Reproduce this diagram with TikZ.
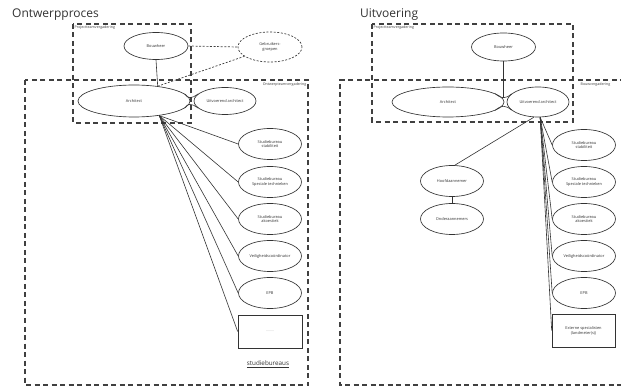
\documentclass[tikz,border=0pt]{standalone}
\usepackage{fontspec}
\setmainfont{Open Sans}
\usetikzlibrary{shapes.geometric}
\begin{document}
\begin{tikzpicture}[x=1pt,y=-1pt,
  line/.style={draw=black!80, line width=0.6pt},
  meet/.style={draw=black!75, line width=1.1pt, dash pattern=on 5pt off 3.5pt},
  meetlabel/.style={font=\fontsize{3.6}{4}\selectfont, text=black!75, inner sep=0.5pt},
  ell/.style={draw=black!80, line width=0.65pt, ellipse, inner sep=0pt, align=center,
    minimum width=63pt, minimum height=31pt, font=\fontsize{3.9}{4.8}\selectfont, text=black!80},
  dotell/.style={ell, dash pattern=on 2pt off 1.6pt},
  boxnode/.style={draw=black!80, line width=0.65pt, rectangle, inner sep=0pt, align=center,
    minimum width=64pt, minimum height=33pt, font=\fontsize{3.9}{4.8}\selectfont, text=black!80},
  title/.style={font=\fontsize{12}{14}\selectfont, text=black!80, anchor=west, inner sep=0pt},
  dline/.style={draw=black!75, line width=0.7pt, dash pattern=on 2pt off 1.6pt}
]
\useasboundingbox (0,0) rectangle (621,387);
\fill[white] (0,0) rectangle (621,387);

% ---------------- Left: Ontwerpproces ----------------
\node[title] (t1) at (12,15) {Ontwerpproces};
\draw[meet] (73,24) rectangle (191,123);
\node[meetlabel, anchor=north west] (pl1) at (74,25) {Projectteamvergadering};
\draw[meet] (25,80) rectangle (308,385);
\node[meetlabel, anchor=north east] (ol1) at (307,82) {Ontwerpteamvergadering};

\node[ell, minimum width=64pt, minimum height=27pt] (bh1) at (156,46) {Bouwheer};
\node[dotell, minimum width=64pt, minimum height=30pt] (geb) at (270,47) {Gebruikers-\\groepen};
\node[ell, minimum width=112pt, minimum height=32pt] (arch1) at (134,101) {Architect};
\node[ell, minimum width=62pt, minimum height=27pt] (ua1) at (225,101) {Uitvoerend architect};

\node[ell] (s1) at (270,144) {Studiebureau\\stabiliteit};
\node[ell] (s2) at (270,182) {Studiebureau\\Speciale technieken};
\node[ell] (s3) at (270,219) {Studiebureau\\akoestiek};
\node[ell] (s4) at (270,256) {Veiligheidscoördinator};
\node[ell] (s5) at (270,293) {EPB};
\node[boxnode] (box1) at (270,331.5) {\textcolor{black!35}{........}};
\node[font=\fontsize{6.3}{7}\selectfont, text=black!80, inner sep=0pt] (sb) at (268,364) {\underline{studiebureaus}};

\draw[line] (bh1.south) -- (arch1.32);
\draw[dline] (bh1.east) -- (geb.west);
\draw[dline] (arch1.32) -- (geb.200);
\draw[line] (arch1.8) .. controls (188,99) and (191,99) .. (ua1.165);
\draw[line] (arch1.-8) .. controls (188,103) and (191,103) .. (ua1.195);
\foreach \n in {s1,s2,s3,s4,s5,box1} \draw[line] (arch1.-30) -- (\n.west);

% ---------------- Right: Uitvoering ----------------
\node[title] (t2) at (360,15) {Uitvoering};
\draw[meet] (372,24) rectangle (573,122);
\node[meetlabel, anchor=north west] (pl2) at (373,25) {Projectteamvergadering};
\draw[meet] (625,80) -- (340,80) -- (340,385) -- (625,385);
\node[meetlabel, anchor=north west] (bl2) at (580,82) {Bouwvergadering};

\node[ell, minimum width=64pt, minimum height=28pt] (bh2) at (503.5,47) {Bouwheer};
\node[ell, minimum width=112pt, minimum height=30pt] (arch2) at (448,102) {Architect};
\node[ell, minimum width=62pt, minimum height=30pt] (ua2) at (538,102) {Uitvoerend architect};
\node[ell] (hoofd) at (452,181) {Hoofdaannemer};
\node[ell] (onder) at (452,219) {Onderaannemers};

\node[ell] (r1) at (584,145) {Studiebureau\\stabiliteit};
\node[ell] (r2) at (584,182) {Studiebureau\\Speciale technieken};
\node[ell] (r3) at (584,219) {Studiebureau\\akoestiek};
\node[ell] (r4) at (584,256) {Veiligheidscoördinator};
\node[ell] (r5) at (584,293) {EPB};
\node[boxnode, minimum width=63pt] (box2) at (583.5,330.5) {Externe specialisten\\(landmeter(s))};

\coordinate (bt) at (503.5,97.8);
\draw[line] (bh2.south) -- (bt);
\draw[line] (arch2.10) .. controls (501,99) and (506,99) .. (ua2.163);
\draw[line] (arch2.-10) .. controls (501,105) and (506,105) .. (ua2.197);
\draw[line] (ua2.-105) -- (hoofd.80);
\draw[line] (hoofd.south) -- (onder.north);
\foreach \n in {r1,r2,r3,r4,r5,box2} \draw[line] (ua2.-82) -- (\n.west);
\end{tikzpicture}
\end{document}
